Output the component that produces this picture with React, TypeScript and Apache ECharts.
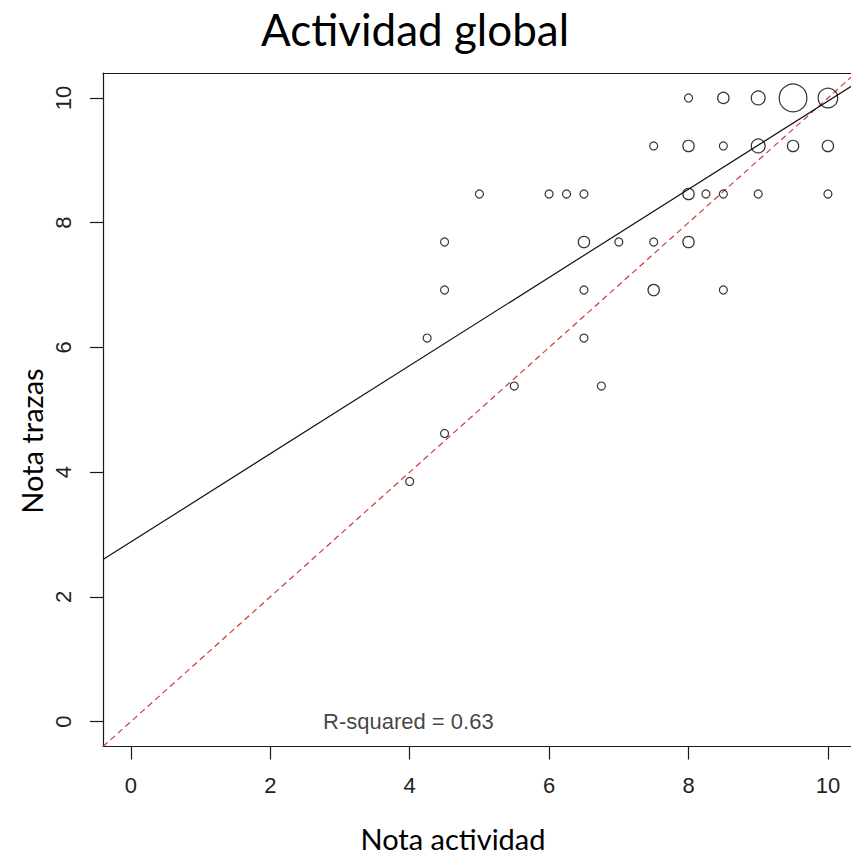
import React, { useEffect, useRef } from "react";
import * as echarts from "echarts";

// ---- Data ----
const notaActividad = [
  8, 8.5, 9, 9.5, 10,
  7.5, 8, 8.5, 9, 9.5, 10,
  5, 6, 6.25, 6.5, 8, 8.25, 8.5, 9, 10,
  4.5, 6.5, 7, 7.5, 8,
  4.5, 6.5, 7.5, 8.5,
  4.25, 6.5,
  5.5, 6.75,
  4.5,
  4,
];
const notaTrazas = [
  10, 10, 10, 10, 10,
  9.23, 9.23, 9.23, 9.23, 9.23, 9.23,
  8.46, 8.46, 8.46, 8.46, 8.46, 8.46, 8.46, 8.46, 8.46,
  7.69, 7.69, 7.69, 7.69, 7.69,
  6.92, 6.92, 6.92, 6.92,
  6.15, 6.15,
  5.38, 5.38,
  4.62,
  3.85,
];
const frecuencia = [
  1, 2, 3, 12, 6,
  1, 2, 1, 3, 2, 2,
  1, 1, 1, 1, 2, 1, 1, 1, 1,
  1, 2, 1, 1, 2,
  1, 1, 2, 1,
  1, 1,
  1, 1,
  1,
  1,
];
const xTicks = [0, 2, 4, 6, 8, 10];
const yTicks = [0, 2, 4, 6, 8, 10];
const fitIntercept = 2.88;
const fitSlope = 0.707;
const rSquared = 0.63;
const rSquaredAt = [3.98, 0];

const titleText = "Actividad global";
const xName = "Nota actividad";
const yName = "Nota trazas";

const xMin = -0.4;
const xMax = 10.4;
const yMin = -0.4;
const yMax = 10.4;

export default function App() {
  const ref = useRef<HTMLDivElement>(null);

  useEffect(() => {
    if (!ref.current) return;
    const chart = echarts.init(ref.current, undefined, { renderer: "svg" });

    const points = notaActividad.map((x, i) => [x, notaTrazas[i], frecuencia[i]]);
    const fitLine = [xMin, xMax].map((x) => [x, fitIntercept + fitSlope * x]);
    const identity = [xMin, xMax].map((x) => [x, x]);

    const tickFont = "Liberation Sans, Arial, sans-serif";
    const frameColor = "#1a1a1a";

    chart.setOption({
      animation: false,
      backgroundColor: "#ffffff",
      title: {
        text: titleText,
        left: 410,
        top: 2,
        textAlign: "center",
        textStyle: {
          fontFamily: "Lato, sans-serif",
          fontSize: 44,
          fontWeight: "normal",
          color: "#000",
        },
      },
      grid: { left: 103, top: 73, width: 752.8, bottom: 110.5, containLabel: false },
      xAxis: [
        {
          type: "value",
          min: xMin,
          max: xMax,
          position: "bottom",
          axisLine: { show: true, onZero: false, lineStyle: { color: frameColor, width: 1.2 } },
          axisTick: {
            show: true,
            length: 13,
            customValues: xTicks,
            lineStyle: { color: frameColor, width: 1.2 },
          },
          axisLabel: {
            customValues: xTicks,
            margin: 28,
            fontSize: 22,
            fontFamily: tickFont,
            color: "#222",
          },
          splitLine: { show: false },
        },
        {
          type: "value",
          min: xMin,
          max: xMax,
          position: "top",
          axisLine: { show: true, onZero: false, lineStyle: { color: frameColor, width: 1.2 } },
          axisTick: { show: false },
          axisLabel: { show: false },
          splitLine: { show: false },
        },
      ],
      yAxis: {
        type: "value",
        min: yMin,
        max: yMax,
        axisLine: { show: true, onZero: false, lineStyle: { color: frameColor, width: 1.2 } },
        axisTick: {
          show: true,
          length: 13,
          customValues: yTicks,
          lineStyle: { color: frameColor, width: 1.2 },
        },
        axisLabel: {
          customValues: yTicks,
          rotate: 90,
          margin: 29,
          fontSize: 22,
          fontFamily: tickFont,
          color: "#222",
        },
        splitLine: { show: false },
      },
      graphic: [
        {
          type: "text",
          x: 453,
          y: 838,
          style: {
            text: xName,
            fontFamily: "Lato, sans-serif",
            fontSize: 29,
            fill: "#000",
            textAlign: "center",
            textVerticalAlign: "middle",
          },
        },
        {
          type: "text",
          x: 31,
          y: 441,
          rotation: Math.PI / 2,
          style: {
            text: yName,
            fontFamily: "Lato, sans-serif",
            fontSize: 29,
            fill: "#000",
            textAlign: "center",
            textVerticalAlign: "middle",
          },
        },
      ],
      series: [
        {
          type: "line",
          data: identity,
          symbol: "none",
          lineStyle: { color: "#cc3b3b", width: 1.2, type: [6, 4] },
          z: 3,
        },
        {
          type: "line",
          data: fitLine,
          symbol: "none",
          lineStyle: { color: "#111", width: 1.2 },
          z: 3,
        },
        {
          type: "scatter",
          data: points,
          symbol: "circle",
          symbolSize: (v: number[]) => 8 * Math.sqrt(v[2]),
          itemStyle: { color: "rgba(0,0,0,0)", borderColor: "#000", borderWidth: 1.2 },
          z: 4,
        },
        {
          type: "scatter",
          data: [rSquaredAt],
          symbolSize: 0,
          silent: true,
          label: {
            show: true,
            position: "inside",
            formatter: () => "R-squared = " + rSquared.toFixed(2),
            fontSize: 22,
            fontFamily: tickFont,
            color: "#111",
          },
          z: 5,
        },
      ],
    });

    return () => chart.dispose();
  }, []);

  return (
    <div
      style={{
        position: "fixed",
        left: 0,
        top: 0,
        width: 851,
        height: 857,
        overflow: "hidden",
        background: "#fff",
      }}
    >
      <div ref={ref} style={{ width: 880, height: 857 }} />
    </div>
  );
}
